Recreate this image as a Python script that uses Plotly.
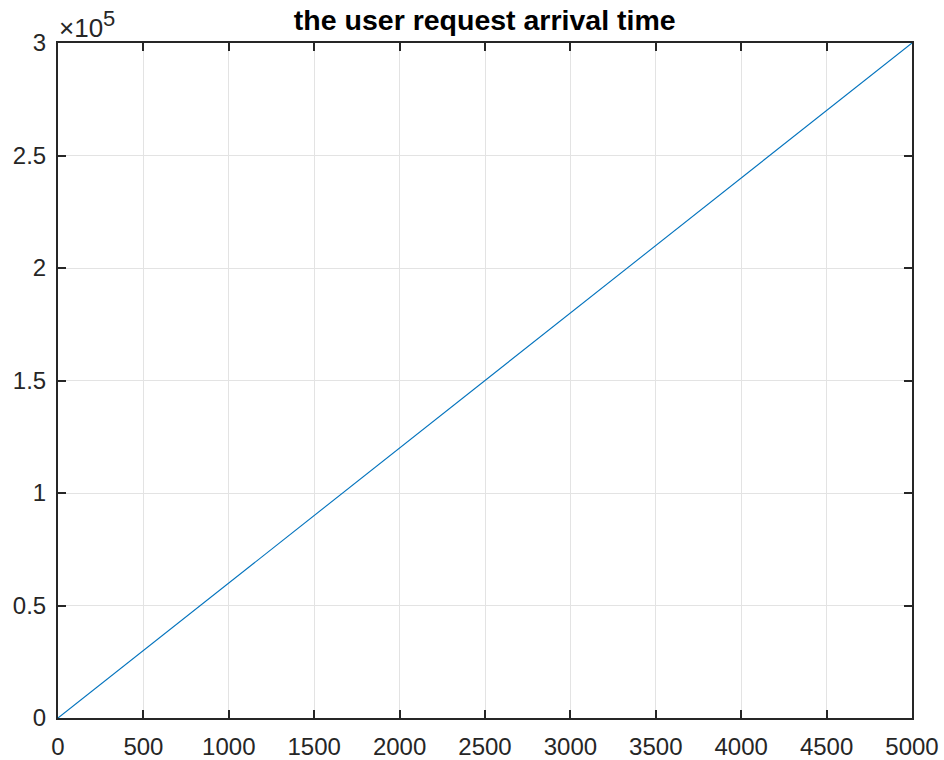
import plotly.graph_objects as go

request_index = [0, 500, 1000, 1500, 2000, 2500, 3000, 3500, 4000, 4500, 5000]
arrival_time = [0, 30000, 60000, 90000, 120000, 150000, 180000, 210000, 240000, 270000, 300000]

x_ticks = [0, 500, 1000, 1500, 2000, 2500, 3000, 3500, 4000, 4500, 5000]
y_ticks = [0, 50000, 100000, 150000, 200000, 250000, 300000]
y_ticklabels = ["0", "0.5", "1", "1.5", "2", "2.5", "3"]

FONT = "Liberation Sans, Arial, Helvetica, sans-serif"
AX = "#262626"

fig = go.Figure()
fig.add_trace(go.Scatter(x=request_index, y=arrival_time, mode="lines",
                         line=dict(color="#0072BD", width=1.1), showlegend=False))

axis_common = dict(showline=True, linecolor=AX, linewidth=2, mirror="ticks",
                   ticks="inside", ticklen=8, tickwidth=2, tickcolor=AX,
                   showgrid=True, gridcolor="#e3e3e3", gridwidth=1, automargin=False,
                   zeroline=False, tickfont=dict(family=FONT, size=24, color=AX))

fig.update_xaxes(range=[0, 5000], tickvals=x_ticks, ticklabelstandoff=6, **axis_common)
fig.update_yaxes(range=[0, 300000], tickvals=y_ticks, ticktext=y_ticklabels,
                 ticklabelstandoff=5, **axis_common)

fig.update_layout(
    width=944, height=760,
    margin=dict(l=58, r=32, t=43, b=42, autoexpand=False),
    plot_bgcolor="white", paper_bgcolor="white",
    title=dict(text="<b>the user request arrival time</b>", x=0.5135, xanchor="center",
               y=0.974, yanchor="middle", font=dict(family=FONT, size=28.5, color="black")),
    annotations=[dict(text="×10<sup><span style='font-size:22px'>5</span></sup>",
                      xref="paper", yref="paper", x=0, y=1,
                      xanchor="left", yanchor="bottom", showarrow=False, xshift=-1, yshift=-2,
                      font=dict(family=FONT, size=26, color=AX))],
)

fig.write_html("out.html")
